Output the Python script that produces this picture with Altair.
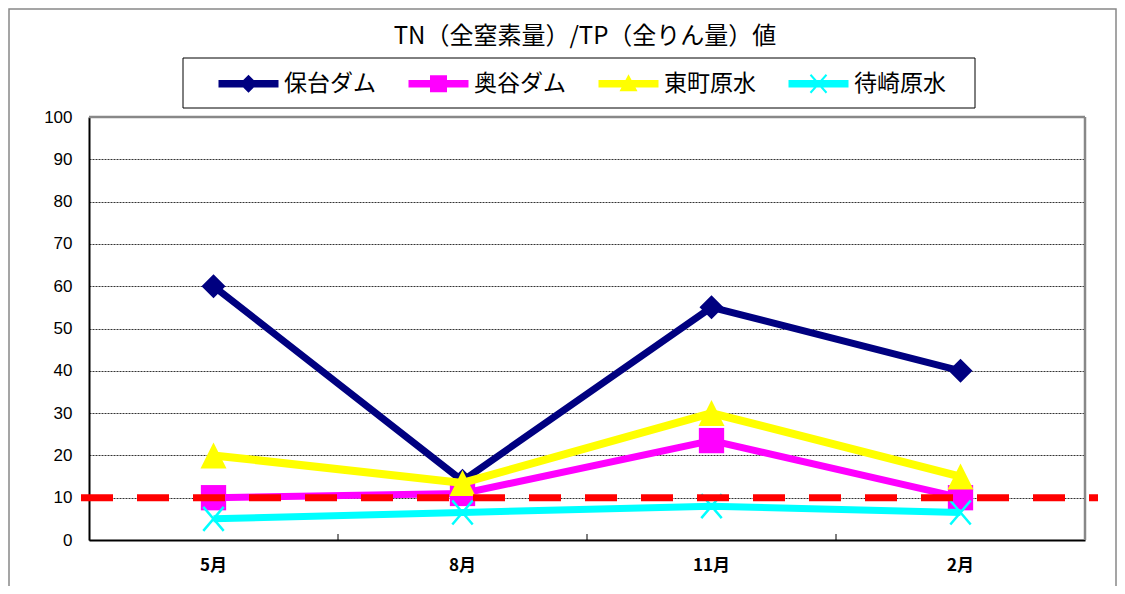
import altair as alt
import pandas as pd

# ---- data ----
months = ["5月", "8月", "11月", "2月"]
series = ["保台ダム", "奥谷ダム", "東町原水", "待崎原水"]
v_hodai = [60, 14, 55, 40]
v_okutani = [10, 11, 23.5, 10]
v_higashimachi = [20, 13.5, 30, 15]
v_machizaki = [5, 6.5, 8, 6.5]
series_values = [v_hodai, v_okutani, v_higashimachi, v_machizaki]
colors = ["#000080", "#FF00FF", "#FFFF00", "#00FFFF"]
title_text = "TN（全窒素量）/TP（全りん量）値"
y_ticks = list(range(0, 101, 10))
standard_value = 10

rows = []
for s, vals in zip(series, series_values):
    for m, v in zip(months, vals):
        rows.append({"series": s, "month": m, "value": v})
df = pd.DataFrame(rows)

# ---- styling ----
W, H = 996, 423
JP = "Noto Sans CJK JP"

# marker shapes for the plot (custom paths in [-1, 1] space)
plot_shapes = {
    "保台ダム": ("diamond", 576, True),
    "奥谷ダム": ("square", 640, True),
    "東町原水": ("M0,-1L1,1L-1,1Z", 676, True),
    "待崎原水": ("M-0.85,-1L0.85,1M0.85,-1L-0.85,1", 576, False),
}
line_widths = {"保台ダム": 7, "奥谷ダム": 7, "東町原水": 8, "待崎原水": 7}

# legend symbols: a bar plus the marker (all filled, clockwise)
bar = "M-6,-0.75H6V0.75H-6Z"
legend_paths = [
    bar + "M0,-1.8L1.8,0L0,1.8L-1.8,0Z",
    bar + "M-1.7,-1.7H1.7V1.7H-1.7Z",
    bar + "M0,-1.9L1.8,1.5H-1.8Z",
    bar + "M-1.75,-1.667L-1.45,-1.933L1.75,1.667L1.45,1.933Z"
        + "M-1.45,1.933L-1.75,1.667L1.45,-1.933L1.75,-1.667Z",
]

x_scale = alt.Scale(domain=months, paddingInner=0, paddingOuter=0)
y_scale = alt.Scale(domain=[0, 100], nice=False, zero=True)

x_axis = alt.Axis(title=None, ticks=False, labelPadding=17, labelFont=JP,
                  labelFontSize=17, labelFontWeight="bold", labelColor="black",
                  domainColor="black", domainWidth=2, grid=False, labelAngle=0)
y_axis = alt.Axis(title=None, values=y_ticks, ticks=False, labelPadding=17,
                  labelFont="Liberation Sans", labelFontSize=17, labelColor="black",
                  domainColor="black", domainWidth=2, grid=True, gridColor="#333333",
                  gridDash=[2, 1], gridWidth=1)

def xe(**kw):
    return alt.X("month:N", sort=months, scale=x_scale, axis=x_axis, **kw)

def ye():
    return alt.Y("value:Q", scale=y_scale, axis=y_axis)

one = pd.DataFrame({"t": [title_text]})

layers = []

# frame around whole chart
layers.append(
    alt.Chart(one).mark_rect(filled=False, stroke="#888888", strokeWidth=1.5).encode(
        x=alt.value(-80), x2=alt.value(W + 31), y=alt.value(-108), y2=alt.value(H + 60)
    )
)

# month boundary ticks (inside)
layers.append(
    alt.Chart(pd.DataFrame({"month": months[1:]})).mark_rule(color="black", strokeWidth=1).encode(
        x=xe(bandPosition=0), y=alt.value(H), y2=alt.value(H - 6)
    )
)

for s, c in zip(series, colors):
    shp, size, filled = plot_shapes[s]
    base = alt.Chart(df).transform_filter(alt.datum.series == s)
    layers.append(
        base.mark_line(color=c, strokeWidth=line_widths[s], strokeJoin="miter").encode(x=xe(), y=ye())
    )
    if filled:
        pt = base.mark_point(shape=shp, size=size, filled=True, fill=c, opacity=1, strokeWidth=0)
    else:
        pt = base.mark_point(shape=shp, size=size, filled=False, stroke=c, opacity=1, strokeWidth=2.5)
    layers.append(pt.encode(x=xe(), y=ye()))

# standard line at 10
layers.append(
    alt.Chart(pd.DataFrame({"v": [standard_value]})).mark_rule(
        color="#FF0000", strokeWidth=7, strokeDash=[32, 24]
    ).encode(y=alt.datum(standard_value, scale=y_scale), x=alt.value(-8), x2=alt.value(1009))
)

# top / right plot border
layers.append(alt.Chart(one).mark_rule(color="#888888", strokeWidth=2.5).encode(
    x=alt.value(0), x2=alt.value(W), y=alt.value(0)))
layers.append(alt.Chart(one).mark_rule(color="#888888", strokeWidth=2.5).encode(
    x=alt.value(W), y=alt.value(0), y2=alt.value(H)))

# legend box
layers.append(
    alt.Chart(one).mark_rect(filled=False, stroke="black", strokeWidth=1).encode(
        x=alt.value(94), x2=alt.value(886), y=alt.value(-59), y2=alt.value(-9)
    )
)

# legend (hidden layer carrying colour + shape scales)
leg = alt.Legend(title=None, orient="none", legendX=148, legendY=-45,
                 direction="horizontal", columns=4, symbolSize=100,
                 symbolStrokeWidth=0, symbolOpacity=1, labelFont=JP,
                 labelFontSize=23, labelColor="black", labelOffset=24,
                 columnPadding=32, labelLimit=0)
layers.append(
    alt.Chart(df).transform_filter("datum.value < -1").mark_point(filled=True, opacity=1).encode(
        x=xe(), y=ye(),
        color=alt.Color("series:N", sort=series, scale=alt.Scale(domain=series, range=colors), legend=leg),
        shape=alt.Shape("series:N", sort=series, scale=alt.Scale(domain=series, range=legend_paths), legend=leg),
    )
)

# title
layers.append(
    alt.Chart(one).mark_text(font=JP, fontSize=24, color="black", align="center", baseline="middle").encode(
        text="t:N", x=alt.value(W / 2 - 2), y=alt.value(-80)
    )
)

chart = alt.layer(*layers).properties(
    width=W, height=H,
    padding={"left": 81, "top": 109, "right": 32, "bottom": 46},
    autosize=alt.AutoSizeParams(type="none"),
).configure_view(stroke=None).configure(background="white")

chart.save("out.html", embed_options={"renderer": "svg", "actions": False})
